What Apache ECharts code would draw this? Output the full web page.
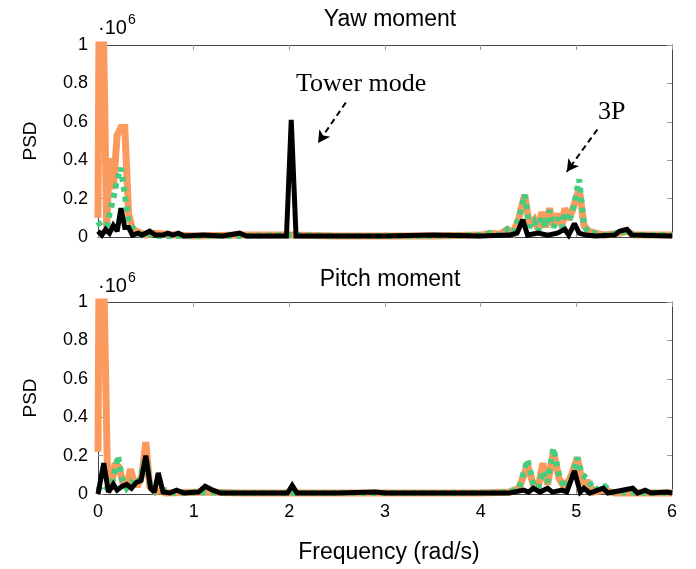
<!DOCTYPE html>
<html>
<head>
<meta charset="utf-8">
<script src="https://cdn.jsdelivr.net/npm/echarts@6/dist/echarts.min.js"></script>
<style>
  html, body { margin: 0; padding: 0; background: #fff; }
  #chart { width: 696px; height: 569px; }
</style>
</head>
<body>
<div id="chart"></div>
<script>
// [frequency (rad/s), PSD (x1e6)]
const yawOrange = [
  [0, 0.1], [0.02, 2], [0.05, 1.3], [0.09, 0.05], [0.12, 0.41], [0.16, 0.25], [0.2, 0.53],
  [0.24, 0.57], [0.28, 0.57], [0.32, 0.12], [0.36, 0.04], [0.4, 0.03], [0.45, 0.02],
  [0.5, 0.01], [0.6, 0.02], [0.8, 0.01], [1.0, 0.005], [1.5, 0.01], [2.0, 0.01],
  [2.5, 0.005], [3.0, 0.005], [3.5, 0.005], [4.0, 0.01], [4.1, 0.02], [4.2, 0.015],
  [4.28, 0.04], [4.34, 0.02], [4.4, 0.1], [4.46, 0.22], [4.51, 0.06], [4.56, 0.09],
  [4.6, 0.04], [4.64, 0.13], [4.68, 0.05], [4.72, 0.15], [4.76, 0.06], [4.81, 0.12],
  [4.85, 0.06], [4.88, 0.15], [4.92, 0.09], [4.96, 0.14], [5.03, 0.25], [5.08, 0.06],
  [5.13, 0.03], [5.2, 0.02], [5.3, 0.01], [5.45, 0.02], [5.53, 0.03], [5.6, 0.01], [6, 0.01]
];
const yawGreen = [
  [0, 0.08], [0.04, 0.05], [0.08, 0.02], [0.12, 0.12], [0.16, 0.2], [0.2, 0.3], [0.24, 0.36],
  [0.28, 0.22], [0.32, 0.08], [0.36, 0.05], [0.4, 0.03], [0.45, 0.01], [0.5, 0.02],
  [0.55, 0.01], [0.6, 0.005], [1.0, 0.005], [1.5, 0.005], [2.0, 0.01], [2.5, 0.005],
  [3.0, 0.005], [3.5, 0.005], [4.0, 0.01], [4.1, 0.02], [4.2, 0.01], [4.28, 0.04],
  [4.34, 0.02], [4.4, 0.1], [4.46, 0.22], [4.51, 0.05], [4.56, 0.08], [4.6, 0.03],
  [4.64, 0.1], [4.68, 0.05], [4.72, 0.14], [4.76, 0.05], [4.81, 0.1], [4.85, 0.05],
  [4.88, 0.13], [4.92, 0.08], [4.96, 0.13], [5.03, 0.3], [5.08, 0.06], [5.13, 0.02],
  [5.2, 0.02], [5.3, 0.01], [5.45, 0.02], [5.53, 0.03], [5.6, 0.01], [6, 0.01]
];
const yawBlack = [
  [0, 0.03], [0.04, 0.01], [0.08, 0.04], [0.12, 0.02], [0.16, 0.06], [0.2, 0.03],
  [0.24, 0.15], [0.28, 0.05], [0.32, 0.05], [0.36, 0.01], [0.42, 0.02], [0.46, 0.01],
  [0.54, 0.03], [0.6, 0.01], [0.68, 0.01], [0.73, 0.02], [0.78, 0.01], [0.84, 0.02],
  [0.9, 0.005], [1.1, 0.01], [1.3, 0.005], [1.48, 0.02], [1.55, 0.005], [1.92, 0.005],
  [1.97, 0.005], [2.02, 0.61], [2.07, 0.005], [2.2, 0.005], [2.5, 0.005], [3.0, 0.005],
  [3.5, 0.01], [4.0, 0.005], [4.3, 0.01], [4.38, 0.02], [4.44, 0.09], [4.49, 0.01],
  [4.6, 0.02], [4.7, 0.01], [4.8, 0.02], [4.88, 0.04], [4.92, 0.01], [4.98, 0.07],
  [5.03, 0.02], [5.1, 0.01], [5.2, 0.005], [5.4, 0.01], [5.45, 0.03], [5.53, 0.04],
  [5.58, 0.01], [6, 0.005]
];
const pitchOrange = [
  [0, 0.22], [0.02, 2], [0.05, 1.4], [0.1, 0.08], [0.14, 0.05], [0.18, 0.16], [0.22, 0.14],
  [0.26, 0.06], [0.3, 0.04], [0.34, 0.13], [0.38, 0.05], [0.42, 0.05], [0.46, 0.1],
  [0.5, 0.27], [0.54, 0.04], [0.6, 0.01], [0.65, 0.02], [0.7, 0.005], [1.1, 0.01],
  [1.5, 0.005], [2.0, 0.005], [2.5, 0.005], [3.0, 0.005], [3.5, 0.005], [4.0, 0.005],
  [4.3, 0.01], [4.4, 0.03], [4.49, 0.15], [4.55, 0.05], [4.6, 0.03], [4.65, 0.16],
  [4.7, 0.05], [4.76, 0.22], [4.82, 0.08], [4.88, 0.03], [4.95, 0.1], [5.01, 0.19],
  [5.06, 0.06], [5.12, 0.06], [5.18, 0.01], [5.3, 0.02], [5.4, 0.005], [6, 0.005]
];
const pitchGreen = [
  [0, 0.02], [0.05, 0.05], [0.1, 0.03], [0.15, 0.06], [0.21, 0.2], [0.25, 0.08],
  [0.3, 0.03], [0.35, 0.06], [0.4, 0.04], [0.45, 0.1], [0.5, 0.19], [0.55, 0.03],
  [0.6, 0.01], [0.7, 0.02], [0.8, 0.005], [1.1, 0.01], [1.5, 0.005], [2.0, 0.005],
  [2.5, 0.005], [3.0, 0.005], [3.5, 0.005], [4.0, 0.005], [4.3, 0.01], [4.4, 0.03],
  [4.49, 0.18], [4.55, 0.05], [4.6, 0.03], [4.65, 0.12], [4.7, 0.06], [4.76, 0.24],
  [4.82, 0.1], [4.88, 0.03], [4.95, 0.08], [5.01, 0.19], [5.06, 0.1], [5.12, 0.08],
  [5.18, 0.02], [5.3, 0.04], [5.36, 0.01], [6, 0.005]
];
const pitchBlack = [
  [0, 0.0], [0.06, 0.16], [0.11, 0.01], [0.16, 0.05], [0.2, 0.02], [0.25, 0.04],
  [0.3, 0.05], [0.35, 0.03], [0.4, 0.06], [0.45, 0.07], [0.5, 0.2], [0.55, 0.03],
  [0.59, 0.01], [0.63, 0.11], [0.68, 0.01], [0.75, 0.005], [0.82, 0.02], [0.9, 0.005],
  [1.05, 0.01], [1.12, 0.04], [1.2, 0.02], [1.28, 0.005], [1.6, 0.005], [1.98, 0.005],
  [2.03, 0.045], [2.08, 0.005], [2.5, 0.005], [2.9, 0.01], [3.0, 0.005], [4.3, 0.005],
  [4.45, 0.02], [4.5, 0.01], [4.55, 0.03], [4.62, 0.01], [4.7, 0.03], [4.75, 0.01],
  [4.85, 0.02], [4.9, 0.01], [4.98, 0.12], [5.04, 0.01], [5.08, 0.03], [5.14, 0.005],
  [5.28, 0.03], [5.33, 0.005], [5.59, 0.03], [5.64, 0.005], [5.72, 0.02], [5.78, 0.005],
  [5.95, 0.01], [6, 0.005]
];

const plotTitles = ['Yaw moment', 'Pitch moment'];
// annotation arrows in data coordinates (top plot)
const towerArrow = [[2.59, 0.70], [2.30, 0.49]];
const threePArrow = [[5.22, 0.56], [4.90, 0.34]];

const orange = '#fb9a5e';
const green = '#45cc7e';
const frameColor = '#444';
const tickColor = '#999';
const sans = 'Liberation Sans, Arial, sans-serif';
const serif = 'Liberation Serif, Times New Roman, serif';

const chart = echarts.init(document.getElementById('chart'));

function xAx(grid, pos, labels) {
  return {
    type: 'value', gridIndex: grid, position: pos, min: 0, max: 6, interval: 1,
    axisLine: { show: true, onZero: false, lineStyle: { color: frameColor, width: 1 } },
    axisTick: { show: true, inside: true, length: 5, lineStyle: { color: tickColor } },
    axisLabel: { show: labels, color: '#000', fontSize: 18, fontFamily: sans, margin: 9 },
    splitLine: { show: false }
  };
}
function yAx(grid, pos, labels) {
  return {
    type: 'value', gridIndex: grid, position: pos, min: 0, max: 1, interval: 0.2,
    axisLine: { show: true, onZero: false, lineStyle: { color: frameColor, width: 1 } },
    axisTick: { show: true, inside: true, length: 5, lineStyle: { color: tickColor } },
    axisLabel: { show: labels, color: '#000', fontSize: 18, fontFamily: sans, margin: 10 },
    splitLine: { show: false },
    name: labels ? 'PSD' : '', nameLocation: 'middle', nameGap: 58, nameRotate: 90,
    nameTextStyle: { color: '#000', fontSize: 19, fontFamily: sans }
  };
}
function lines(xi, yi, o, g, b, extra) {
  return [
    { type: 'line', xAxisIndex: xi, yAxisIndex: yi, data: o, showSymbol: false,
      lineStyle: { color: orange, width: 7, join: 'miter', miterLimit: 2 } },
    { type: 'line', xAxisIndex: xi, yAxisIndex: yi, data: g, showSymbol: false,
      lineStyle: { color: green, width: 6, type: [5, 5], cap: 'butt', join: 'miter', miterLimit: 2 } },
    Object.assign({ type: 'line', xAxisIndex: xi, yAxisIndex: yi, data: b, showSymbol: false,
      lineStyle: { color: '#000', width: 5, join: 'miter', miterLimit: 2 } }, extra || {})
  ];
}

const arrowMark = {
  markLine: {
    silent: true, animation: false,
    symbol: ['none', 'arrow'], symbolSize: [10, 12],
    lineStyle: { color: '#000', width: 2, type: [6, 4] },
    label: { show: false },
    data: [
      [{ coord: towerArrow[0] }, { coord: towerArrow[1] }],
      [{ coord: threePArrow[0] }, { coord: threePArrow[1] }]
    ]
  }
};

const xLabel = 'Frequency (rad/s)';
const labelText = { fontSize: 23, fontWeight: 'normal', fontFamily: sans, color: '#000' };

const option = {
  animation: false,
  backgroundColor: '#fff',
  title: [
    { text: plotTitles[0], left: 385, top: 3, textAlign: 'center', textStyle: labelText },
    { text: plotTitles[1], left: 385, top: 263, textAlign: 'center', textStyle: labelText },
    { text: xLabel, left: 384, top: 536, textAlign: 'center', textStyle: labelText }
  ],
  graphic: [
    { type: 'text', left: 98, top: 18, style: { text: '·10', fontSize: 20, fontFamily: sans, fill: '#000' } },
    { type: 'text', left: 128, top: 13, style: { text: '6', fontSize: 14, fontFamily: sans, fill: '#000' } },
    { type: 'text', left: 98, top: 276, style: { text: '·10', fontSize: 20, fontFamily: sans, fill: '#000' } },
    { type: 'text', left: 128, top: 271, style: { text: '6', fontSize: 14, fontFamily: sans, fill: '#000' } },
    { type: 'text', left: 296, top: 71, style: { text: 'Tower mode', fontSize: 26, fontFamily: serif, fill: '#000' } },
    { type: 'text', left: 598, top: 99, style: { text: '3P', fontSize: 26, fontFamily: serif, fill: '#000' } }
  ],
  grid: [
    { left: 98, right: 24, top: 45, height: 192 },
    { left: 98, right: 24, top: 302, height: 192 }
  ],
  xAxis: [xAx(0, 'bottom', false), xAx(0, 'top', false), xAx(1, 'bottom', true), xAx(1, 'top', false)],
  yAxis: [yAx(0, 'left', true), yAx(0, 'right', false), yAx(1, 'left', true), yAx(1, 'right', false)],
  series: [
    ...lines(0, 0, yawOrange, yawGreen, yawBlack, arrowMark),
    ...lines(2, 2, pitchOrange, pitchGreen, pitchBlack)
  ]
};

chart.setOption(option);
</script>
</body>
</html>
